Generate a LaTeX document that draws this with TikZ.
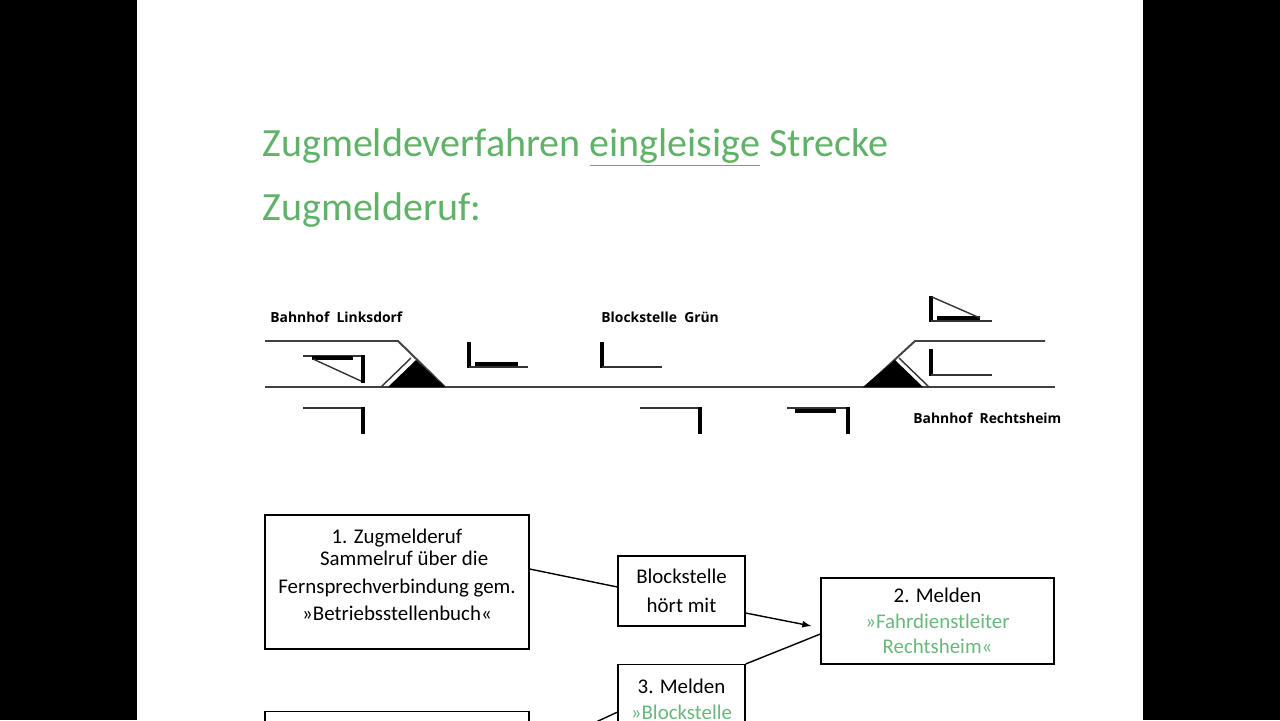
\documentclass[tikz,border=0pt]{standalone}
\usepackage{fontspec}
\setmainfont{Carlito}
\newfontfamily\trackfont{Open Sans}
\usetikzlibrary{positioning}
\definecolor{titlegreen}{RGB}{96,178,104}
\definecolor{textgreen}{RGB}{104,184,124}
\tikzset{
  rail/.style={line width=1.1pt, draw=black!75},
  thin/.style={line width=0.8pt, draw=black!80},
  mast/.style={line width=2.6pt},
  wing/.style={line width=2.2pt},
  lbl/.style={font=\trackfont\bfseries\fontsize{7.9}{10}\selectfont, anchor=base west, inner sep=0pt},
  box/.style={draw, line width=0.7pt, align=center, inner sep=0pt,
    font=\fontsize{11.9}{14.6}\selectfont},
  link/.style={line width=0.8pt}
}
\begin{document}
\begin{tikzpicture}[x=0.02cm, y=-0.02cm]
\useasboundingbox (0,0) rectangle (1280,720);
\fill[black] (0,0) rectangle (137,720);
\fill[black] (1143,0) rectangle (1280,720);
\clip (0,0) rectangle (1280,720);

% title
\node[anchor=base west, inner sep=0pt, text=titlegreen, font=\fontsize{22.8}{28}\selectfont] (title) at (262,156)
  {Zugmeldeverfahren \underline{eingleisige} Strecke};
\node[anchor=base west, inner sep=0pt, text=titlegreen, font=\fontsize{22.8}{28}\selectfont] (call) at (262,220)
  {Zugmelderuf:};

% tracks
\draw[rail] (265,387) -- (1055,387);
\draw[rail] (265,341) -- (398,341) -- (445,387);
\draw[rail] (1045,341) -- (915,341) -- (865,387);
% switches
\fill (388,387) -- (416,360) -- (445,387) -- cycle;
\draw[thin] (381,387) -- (411,358);
\fill (863,387) -- (895,360) -- (923,387) -- cycle;
\draw[thin] (929,387) -- (899,358);

% signals Linksdorf
\draw[thin] (303,356) -- (363,356);
\draw[wing] (312,358) -- (353,358);
\draw[thin] (313,359) -- (361,381);
\draw[mast] (363,355) -- (363,383);
\draw[thin] (303,408) -- (363,408);
\draw[mast] (363,407) -- (363,434);
\draw[mast] (469,342) -- (469,368);
\draw[thin] (469,367) -- (528,367);
\draw[wing] (475,364) -- (518,364);

% signals Blockstelle
\draw[mast] (602,342) -- (602,368);
\draw[thin] (602,367) -- (662,367);
\draw[thin] (640,408) -- (700,408);
\draw[mast] (700,407) -- (700,434);
\draw[thin] (787,408) -- (848,408);
\draw[wing] (795,411) -- (836,411);
\draw[mast] (848,407) -- (848,434);

% signals Rechtsheim
\draw[mast] (931,296) -- (931,322);
\draw[thin] (931,321) -- (992,321);
\draw[wing] (937,318) -- (980,318);
\draw[thin] (932,297) -- (980,318);
\draw[mast] (931,349) -- (931,376);
\draw[thin] (931,375) -- (992,375);

% labels
\node[lbl] (links) at (270,322) {Bahnhof\ \ Linksdorf};
\node[lbl] (gruen) at (601,322) {Blockstelle\ \ Grün};
\node[lbl] (rechts) at (913,423) {Bahnhof\ \ Rechtsheim};

% boxes
\node[box, minimum width=5.28cm, minimum height=2.68cm] (b1) at (397,582)
  {\raisebox{0pt}[0pt][0pt]{}\\[-24pt]1. Zugmelderuf\\[-2pt]\ \ \ Sammelruf über die\\[1pt]Fernsprechverbindung gem.\\[1pt]»Betriebsstellenbuch«};
\node[box, minimum width=2.54cm, minimum height=1.4cm] (b2) at (681.5,591)
  {Blockstelle\\[2pt]hört mit};
\node[box, minimum width=4.66cm, minimum height=1.72cm] (b3) at (937.5,621)
  {2. Melden\\\textcolor{textgreen}{»Fahrdienstleiter}\\\textcolor{textgreen}{Rechtsheim«}};
\node[box, minimum width=2.54cm, minimum height=1.9cm, anchor=north] (b4) at (681.5,664)
  {3. Melden\\\textcolor{textgreen}{»Blockstelle}\\\phantom{x}};
\node[box, minimum width=5.28cm, minimum height=2.68cm, anchor=north] (b5) at (397,711) {};
\coordinate (b5out) at (596,722);

\draw[link] ([yshift=0.26cm]b1.east) -- ([yshift=0.08cm]b2.west);
\draw[link, -latex] ([yshift=-0.44cm]b2.east) -- ([yshift=-0.1cm, xshift=-0.18cm]b3.west);
\draw[link] (b4.north east) -- ([yshift=-0.26cm]b3.west);
\draw[link] (b5out) -- (b4.west);
\end{tikzpicture}
\end{document}
